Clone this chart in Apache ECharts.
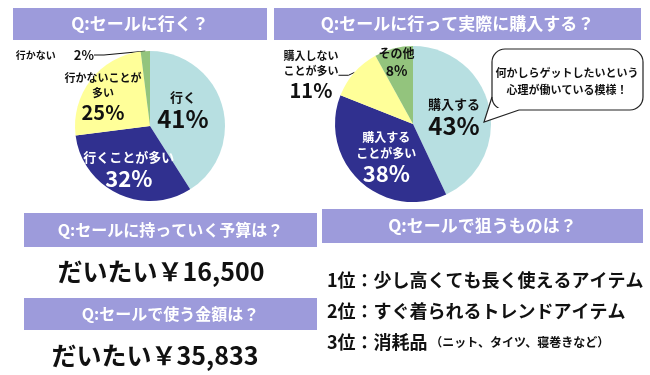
<!DOCTYPE html>
<html><head><meta charset="utf-8">
<script src="https://cdn.jsdelivr.net/npm/echarts@6/dist/echarts.min.js"></script>
<style>html,body{margin:0;padding:0;background:#fff}#c{width:650px;height:375px}</style>
</head><body><div id="c"></div>
<script>
// ---- data ----
var goTitle = 'Q:セールに行く？';
var goNames = ['行く', '行くことが多い', '行かないことが多い', '行かない'];
var goLabels = ['行く', '行くことが多い', '行かないことが\n多い', '行かない'];
var goValues = [41, 32, 25, 2];

var buyTitle = 'Q:セールに行って実際に購入する？';
var buyNames = ['購入する', '購入することが多い', '購入しないことが多い', 'その他'];
var buyLabels = ['購入する', '購入する\nことが多い', '購入しない\nことが多い', 'その他'];
var buyValues = [43, 38, 11, 8];

var calloutLines = ['何かしらゲットしたいという', '心理が働いている模様！'];

var budgetTitle = 'Q:セールに持っていく予算は？';
var spendTitle = 'Q:セールで使う金額は？';
var amounts = [16500, 35833];

var targetTitle = 'Q:セールで狙うものは？';
var rankItems = ['少し高くても長く使えるアイテム', 'すぐ着られるトレンドアイテム', '消耗品'];
var rankNotes = ['', '', '（ニット、タイツ、寝巻きなど）'];

// ---- style ----
var FONT = '"Noto Sans CJK JP", "Noto Sans", sans-serif';
var BAR = '#9d9bdb';
var COLORS = ['#b7dfe1', '#30308f', '#ffff99', '#93c47d'];
var TXT = '#111';

function fmtYen(v) { return 'だいたい￥' + v.toLocaleString('en-US'); }

var chart = echarts.init(document.getElementById('c'), null, {renderer: 'canvas'});

function bar(x, y, w, h, text, fs) {
  return [
    {type: 'rect', shape: {x: x, y: y, width: w, height: h}, style: {fill: BAR}, z: 1},
    {type: 'text', x: x + w / 2, y: y + h / 2, z: 2,
      style: {text: text, fill: '#fff', font: 'bold ' + fs + 'px ' + FONT, align: 'center', verticalAlign: 'middle'}}
  ];
}

var graphics = [];
graphics = graphics.concat(bar(13, 8, 254, 32, goTitle, 17));
graphics = graphics.concat(bar(274, 8, 367, 32, buyTitle, 17));
graphics = graphics.concat(bar(24, 213, 293, 34, budgetTitle, 16));
graphics = graphics.concat(bar(24, 298, 293, 32, spendTitle, 16));
graphics = graphics.concat(bar(322, 209, 321, 34, targetTitle, 17));

// amounts
graphics.push({type: 'text', x: 161, y: 271, z: 2,
  style: {text: fmtYen(amounts[0]), fill: TXT, font: 'bold 25px ' + FONT, align: 'center', verticalAlign: 'middle'}});
graphics.push({type: 'text', x: 155, y: 355, z: 2,
  style: {text: fmtYen(amounts[1]), fill: TXT, font: 'bold 25px ' + FONT, align: 'center', verticalAlign: 'middle'}});

// ranking
var rankY = [280, 311, 342];
rankItems.forEach(function (it, i) {
  graphics.push({type: 'text', x: 327, y: rankY[i], z: 2,
    style: {
      text: '{m|' + (i + 1) + '位：' + it + '}' + (rankNotes[i] ? '{n| ' + rankNotes[i] + '}' : ''),
      align: 'left', verticalAlign: 'middle',
      rich: {
        m: {fontFamily: FONT, fontWeight: 'bold', fontSize: 18, fill: TXT, color: TXT},
        n: {fontFamily: FONT, fontWeight: 'bold', fontSize: 12, fill: TXT, color: TXT}
      }
    }});
});

// callout bubble
graphics.push({type: 'rect', z: 100, shape: {x: 492, y: 49, width: 151, height: 61, r: 13},
  style: {fill: '#fff', stroke: '#222', lineWidth: 1.2}});
graphics.push({type: 'polygon', z: 101,
  shape: {points: [[491.2, 97], [484, 122], [519, 111.4], [519, 108], [491.2, 108]]},
  style: {fill: '#fff', stroke: null}});
graphics.push({type: 'polyline', z: 102,
  shape: {points: [[492, 97], [484, 122], [519, 110]]},
  style: {fill: null, stroke: '#222', lineWidth: 1.2}});
graphics.push({type: 'text', x: 567, y: 81, z: 103,
  style: {text: calloutLines.join('\n'), fill: TXT, font: 'bold 11px ' + FONT, lineHeight: 17,
    align: 'center', verticalAlign: 'middle'}});

function richFor(color, a, b) {
  return {
    a: {fontFamily: FONT, fontWeight: 'bold', fontSize: a, color: color, lineHeight: a + 4, align: 'center'},
    b: {fontFamily: FONT, fontWeight: 'bold', fontSize: b, color: color, lineHeight: b + 3, align: 'center'}
  };
}

function makeData(names, labels, values, specs) {
  return names.map(function (n, i) {
    var s = specs[i];
    var d = {name: n, value: values[i], itemStyle: {color: COLORS[i]}};
    var lines = labels[i].split('\n').map(function (l) { return '{a|' + l + '}'; }).join('\n');
    var txt = s.inline ? '{a|' + labels[i] + '}{g|}{b|' + values[i] + '%}' : lines + '\n{b|' + values[i] + '%}';
    var rich = richFor(s.color, s.a, s.b);
    rich.g = {width: 18};
    d.label = {show: true, position: s.pos, formatter: txt, rich: rich};
    if (s.pos === 'outside') {
      d.labelLine = {show: true, length: 8, length2: 10, smooth: false, lineStyle: {color: '#111', width: 1}};
    } else {
      d.labelLine = {show: false};
    }
    return d;
  });
}

var goSpecs = [
  {pos: 'inside', color: TXT, a: 13, b: 24},
  {pos: 'inside', color: '#fff', a: 13, b: 22},
  {pos: 'inside', color: TXT, a: 11, b: 20},
  {pos: 'outside', color: TXT, a: 10, b: 13, inline: true}
];
var buySpecs = [
  {pos: 'inside', color: TXT, a: 13, b: 24},
  {pos: 'inside', color: '#fff', a: 12, b: 22},
  {pos: 'outside', color: TXT, a: 11, b: 20},
  {pos: 'inside', color: TXT, a: 12, b: 14}
];

var goLayout = {0: {dx: -6, dy: -4}, 1: {dx: -4, dy: 7}, 2: {dx: -15, dy: -4}, 3: {x: 94, y: 55, align: 'right', verticalAlign: 'middle'}};
var buyLayout = {0: {dx: 0, dy: 3}, 1: {dx: 2, dy: 3}, 2: {x: 311, y: 75, align: 'center', verticalAlign: 'middle'}, 3: {dx: -6, dy: -21}};

var option = {
  animation: false,
  backgroundColor: '#fff',
  graphic: graphics,
  series: [
    {
      type: 'pie', center: [150, 126], radius: 75, startAngle: 90, clockwise: true,
      avoidLabelOverlap: false, silent: true,
      itemStyle: {borderWidth: 0},
      emphasis: {disabled: true},
      data: makeData(goNames, goLabels, goValues, goSpecs),
      labelLayout: function (p) { return goLayout[p.dataIndex]; }
    },
    {
      type: 'pie', center: [413, 124], radius: 78, startAngle: 90, clockwise: true,
      avoidLabelOverlap: false, silent: true,
      itemStyle: {borderWidth: 0},
      emphasis: {disabled: true},
      data: makeData(buyNames, buyLabels, buyValues, buySpecs),
      labelLayout: function (p) { return buyLayout[p.dataIndex]; }
    }
  ]
};
chart.setOption(option);
</script></body></html>
